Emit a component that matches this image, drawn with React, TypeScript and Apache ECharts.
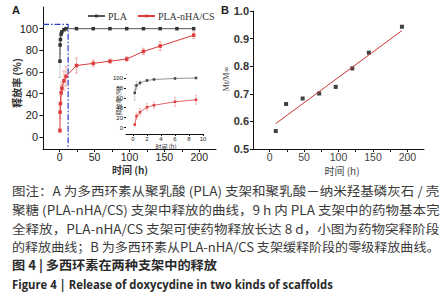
import React, { useEffect, useRef } from "react";
import * as echarts from "echarts";

// Panel A data (time in h, release %)
const plaTimes = [0.25, 0.5, 1, 2, 3, 6, 9, 24, 48, 72, 96, 120, 144, 168, 192];
const plaValues = [70, 85, 90, 95, 97, 99, 100, 100, 100, 100, 100, 100, 100, 100, 100];
const plaErrors = [15, 8, 4, 2, 1, 1, 1, 0, 0, 0, 0, 0, 0, 0, 0];
const nhaTimes = [0.25, 0.5, 1, 2, 3, 6, 9, 24, 48, 72, 96, 120, 144, 192];
const nhaValues = [6, 23, 31, 41, 45, 52, 56, 66, 68, 70, 72, 79, 84, 94];
const nhaErrors = [2, 6, 7, 7, 6, 9, 9, 7, 3, 2, 2, 3, 4, 3];
const insetCount = 7; // points up to 9 h shown in inset
const guideX = [-24, 12, 12];
const guideY = [104, 104, -11];

// Panel B data
const zeroTimes = [9, 24, 48, 72, 96, 120, 144, 192];
const zeroValues = [0.565, 0.663, 0.683, 0.701, 0.725, 0.792, 0.849, 0.943];
const fitTimes = [9, 192];
const fitValues = [0.592, 0.929];

// Tick labels
const aXLabels = [0, 50, 100, 150, 200];
const aXTicks = [0, 25, 50, 75, 100, 125, 150, 175, 200];
const aYLabels = [0, 20, 40, 60, 80, 100];
const insetXLabels = [0, 2, 4, 6, 8, 10];
const insetYLabels = [0, 20, 40, 60, 80, 100];
const bYLabels = [0.5, 0.6, 0.7, 0.8, 0.9, 1.0];

const captionLines = [
  "图注：A 为多西环素从聚乳酸 (PLA) 支架和聚乳酸－纳米羟基磷灰石 / 壳",
  "聚糖 (PLA-nHA/CS) 支架中释放的曲线，9 h 内 PLA 支架中的药物基本完",
  "全释放，PLA-nHA/CS 支架可使药物释放长达 8 d，小图为药物突释阶段",
  "的释放曲线；B 为多西环素从PLA-nHA/CS 支架缓释阶段的零级释放曲线。",
  "图 4 | 多西环素在两种支架中的释放",
  "Figure 4 | Release of doxycydine in two kinds of scaffolds",
];

const RED = "#dc3c3c";
const GREY = "#555555";
const SANS = "'Liberation Sans', Arial, sans-serif";
const CJK = "'Noto Sans CJK SC', sans-serif";

function measure(text: string, font: string): number {
  const c = document.createElement("canvas");
  const ctx = c.getContext("2d")!;
  ctx.font = font;
  return ctx.measureText(text).width;
}

function errorSeries(xi: number, yi: number, t: number[], v: number[], e: number[], color: string, cap: number, n?: number) {
  const data: number[][] = [];
  const len = n ?? t.length;
  for (let i = 0; i < len; i++) {
    if (e[i] > 0) data.push([t[i], v[i] - e[i], v[i] + e[i]]);
  }
  return {
    type: "custom",
    xAxisIndex: xi,
    yAxisIndex: yi,
    silent: true,
    z: xi === 1 ? 3 : 1,
    data,
    encode: { x: 0, y: [1, 2] },
    renderItem: (_p: any, api: any) => {
      const x = api.value(0);
      const p1 = api.coord([x, api.value(1)]);
      const p2 = api.coord([x, api.value(2)]);
      const st = { stroke: color, lineWidth: 0.8 };
      return {
        type: "group",
        children: [
          { type: "line", shape: { x1: p1[0], y1: p1[1], x2: p2[0], y2: p2[1] }, style: st },
          { type: "line", shape: { x1: p1[0] - cap, y1: p1[1], x2: p1[0] + cap, y2: p1[1] }, style: st },
          { type: "line", shape: { x1: p2[0] - cap, y1: p2[1], x2: p2[0] + cap, y2: p2[1] }, style: st },
        ],
      };
    },
  };
}

function valueAxis(gridIndex: number, min: number, max: number, labels: number[], ticks: number[], o: any) {
  return {
    type: "value",
    gridIndex,
    min,
    max,
    splitLine: { show: false },
    axisLine: { show: true, onZero: false, lineStyle: { color: "#111", width: 1 } },
    axisTick: { show: true, customValues: ticks, length: o.tickLen, lineStyle: { color: "#111", width: 1 } },
    axisLabel: {
      customValues: labels,
      margin: o.margin,
      fontSize: o.fontSize,
      fontFamily: SANS,
      fontWeight: o.bold ? "bold" : "normal",
      color: o.color || "#222",
      formatter: o.formatter,
    },
  };
}

export default function App() {
  const ref = useRef<HTMLDivElement>(null);
  useEffect(() => {
    if (!ref.current) return;
    const chart = echarts.init(ref.current, undefined, { renderer: "svg" });

    const captionTargets = [428, 428, 428, 428, 205, 321];
    const captionY = [191, 210, 228.3, 246.7, 265, 283.3];
    const captionStyles = [
      { size: 12.5, weight: "normal", fam: CJK, color: "#3a3a3a" },
      { size: 12.5, weight: "normal", fam: CJK, color: "#3a3a3a" },
      { size: 12.5, weight: "normal", fam: CJK, color: "#3a3a3a" },
      { size: 12.5, weight: "normal", fam: CJK, color: "#3a3a3a" },
      { size: 12.5, weight: "bold", fam: CJK, color: "#2a2a2a" },
      { size: 12.5, weight: "bold", fam: "'Open Sans', " + CJK, color: "#2a2a2a" },
    ];
    const captionGraphics = captionLines.map((txt, i) => {
      const s = captionStyles[i];
      const w = measure(txt, `${s.weight} ${s.size}px ${s.fam}`);
      const sx = w > 0 ? captionTargets[i] / w : 1;
      return {
        type: "text",
        x: 12,
        y: captionY[i],
        scaleX: sx,
        style: {
          text: txt,
          fontSize: s.size,
          fontWeight: s.weight,
          fontFamily: s.fam,
          fill: s.color,
          textAlign: "left",
          textVerticalAlign: "middle",
        },
      };
    });

    const option: any = {
      animation: false,
      backgroundColor: "#fff",
      grid: [
        { left: 43, top: 7, width: 173, height: 142, outerBoundsMode: "none" },
        { left: 126, top: 75, width: 77, height: 59, outerBoundsMode: "none", show: true, backgroundColor: "#fff", borderWidth: 0, z: 3 },
        { left: 253, top: 11, width: 171, height: 138, outerBoundsMode: "none" },
      ],
      xAxis: [
        valueAxis(0, -24, 224, aXLabels, aXTicks, { tickLen: 3, margin: 2.5, fontSize: 10.5 }),
        valueAxis(1, -1, 10, insetXLabels, insetXLabels, { tickLen: 2, margin: 1.5, fontSize: 6 }),
        valueAxis(2, -24, 224, aXLabels, aXTicks, { tickLen: 3, margin: 2.5, fontSize: 10.5, color: "#444" }),
      ],
      yAxis: [
        valueAxis(0, -11, 120, aYLabels, aYLabels, { tickLen: 3.5, margin: 5, fontSize: 11 }),
        valueAxis(1, -13, 106, insetYLabels, insetYLabels, { tickLen: 2, margin: 3, fontSize: 6 }),
        valueAxis(2, 0.5, 1.0, bYLabels, bYLabels, { tickLen: 3, margin: 4, fontSize: 11, bold: true, color: "#333", formatter: (v: number) => v.toFixed(1) }),
      ],
      legend: {
        data: ["PLA", "PLA-nHA/CS"],
        left: 87,
        top: 11,
        itemWidth: 17,
        itemHeight: 3.5,
        itemGap: 10,
        padding: 0,
        textStyle: { fontFamily: "'Liberation Serif', serif", fontSize: 10, color: "#333", padding: [0, 0, 0, -2] },
      },
      series: [
        {
          type: "line",
          xAxisIndex: 0,
          yAxisIndex: 0,
          data: guideX.map((x, i) => [x, guideY[i]]),
          symbol: "none",
          lineStyle: { color: "#2a3fc8", width: 1.2, type: [6, 2, 1.5, 2] },
          z: 1,
          silent: true,
        },
        errorSeries(0, 0, plaTimes, plaValues, plaErrors, "#bdbdbd", 1.5),
        errorSeries(0, 0, nhaTimes, nhaValues, nhaErrors, "#ee9a9a", 1.5),
        {
          name: "PLA",
          type: "line",
          xAxisIndex: 0,
          yAxisIndex: 0,
          data: plaTimes.map((t, i) => [t, plaValues[i]]),
          symbol: "rect",
          symbolSize: 3.5,
          lineStyle: { color: GREY, width: 1 },
          itemStyle: { color: "#333" },
        },
        {
          name: "PLA-nHA/CS",
          type: "line",
          xAxisIndex: 0,
          yAxisIndex: 0,
          data: nhaTimes.map((t, i) => [t, nhaValues[i]]),
          symbol: "rect",
          symbolSize: 3.5,
          lineStyle: { color: RED, width: 1 },
          itemStyle: { color: RED },
        },
        // inset
        errorSeries(1, 1, plaTimes, plaValues, plaErrors, "#c4c4c4", 1, insetCount),
        errorSeries(1, 1, nhaTimes, nhaValues, nhaErrors, "#f0a8a8", 1, insetCount),
        {
          name: "PLA inset",
          type: "line",
          xAxisIndex: 1,
          yAxisIndex: 1,
          data: plaTimes.slice(0, insetCount).map((t, i) => [t, plaValues[i]]),
          symbol: "rect",
          symbolSize: 2.5,
          lineStyle: { color: "#777", width: 0.8 },
          itemStyle: { color: "#444" },
          z: 4,
        },
        {
          name: "PLA-nHA/CS inset",
          type: "line",
          xAxisIndex: 1,
          yAxisIndex: 1,
          data: nhaTimes.slice(0, insetCount).map((t, i) => [t, nhaValues[i]]),
          symbol: "rect",
          symbolSize: 2.5,
          lineStyle: { color: RED, width: 0.8 },
          itemStyle: { color: RED },
          z: 4,
        },
        // panel B
        {
          name: "fit",
          type: "line",
          xAxisIndex: 2,
          yAxisIndex: 2,
          data: fitTimes.map((t, i) => [t, fitValues[i]]),
          symbol: "none",
          lineStyle: { color: "#cc3333", width: 1 },
        },
        {
          name: "Mt/M∞",
          type: "scatter",
          xAxisIndex: 2,
          yAxisIndex: 2,
          data: zeroTimes.map((t, i) => [t, zeroValues[i]]),
          symbol: "rect",
          symbolSize: 4,
          itemStyle: { color: "#111" },
        },
      ],
      graphic: [
        { type: "text", x: 12, y: 10, style: { text: "A", fontSize: 11, fontWeight: "bold", fontFamily: SANS, fill: "#222", textVerticalAlign: "middle" } },
        { type: "text", x: 221, y: 10, style: { text: "B", fontSize: 11, fontWeight: "bold", fontFamily: SANS, fill: "#222", textVerticalAlign: "middle" } },
        { type: "text", x: 16, y: 83, rotation: Math.PI / 2, style: { text: "释放率 (%)", fontSize: 10, fontWeight: "bold", fontFamily: CJK, fill: "#333", textAlign: "center", textVerticalAlign: "middle" } },
        { type: "text", x: 130, y: 169, style: { text: "时间 (h)", fontSize: 10, fontWeight: "bold", fontFamily: CJK, fill: "#333", textAlign: "center", textVerticalAlign: "middle" } },
        { type: "text", x: 118, y: 101, rotation: Math.PI / 2, z: 10, style: { text: "释放率 (%)", fontSize: 6, fontFamily: CJK, fill: "#333", textAlign: "center", textVerticalAlign: "middle" } },
        { type: "text", x: 166, y: 146, z: 10, style: { text: "时间 (h)", fontSize: 6, fontFamily: CJK, fill: "#333", textAlign: "center", textVerticalAlign: "middle" } },
        { type: "text", x: 226, y: 79, rotation: Math.PI / 2, style: { text: "Mt/M∞", fontSize: 8, fontFamily: "'Liberation Serif', serif", fill: "#333", textAlign: "center", textVerticalAlign: "middle" } },
        { type: "text", x: 342, y: 170, style: { text: "时间 (h)", fontSize: 10, fontFamily: CJK, fill: "#444", textAlign: "center", textVerticalAlign: "middle" } },
        ...captionGraphics,
      ],
    };
    chart.setOption(option);
    return () => chart.dispose();
  }, []);
  return <div ref={ref} style={{ position: "absolute", left: 0, top: 0, width: 445, height: 300 }} />;
}
